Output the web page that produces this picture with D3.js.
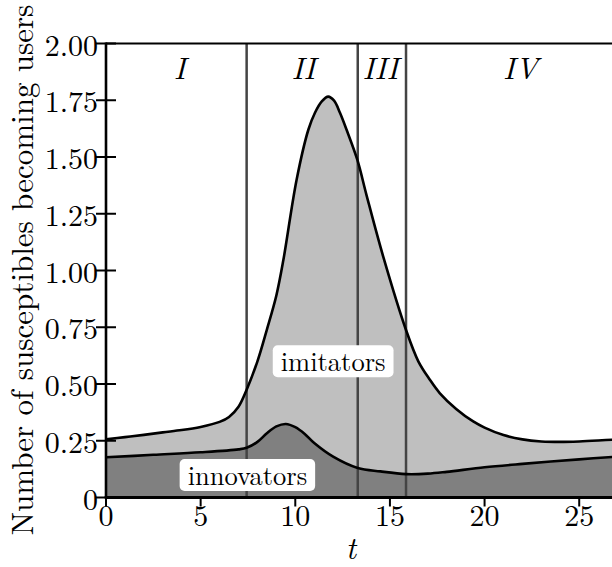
<!DOCTYPE html>
<html>
<head>
<meta charset="utf-8">
<script src="https://cdn.jsdelivr.net/npm/d3@7"></script>
<style>
    body { margin: 0; background: #fff; }
    svg { display: block; }
</style>
</head>
<body>
<script>
(function(){

    //curve of everyone becoming a user (innovators + imitators)
    var totalT = [0, 1, 2, 3, 4, 5, 6, 6.5, 7, 7.43, 8, 8.5, 9, 9.37, 10.07, 10.69, 11.04, 11.4, 11.74, 12.05, 12.36, 12.71, 13.28, 13.77, 14.65, 15.85, 16.5, 17.1, 17.64, 18.5, 19.4, 20, 21, 22, 23, 24, 25, 26, 27];
    var totalV = [0.256, 0.266, 0.276, 0.287, 0.297, 0.311, 0.333, 0.355, 0.40, 0.475, 0.60, 0.74, 0.89, 1.046, 1.40, 1.62, 1.695, 1.745, 1.766, 1.748, 1.695, 1.62, 1.487, 1.33, 1.06, 0.738, 0.60, 0.52, 0.459, 0.39, 0.335, 0.308, 0.275, 0.256, 0.247, 0.245, 0.247, 0.251, 0.256];

    //curve of innovators only
    var innovT = [0, 2.5, 5, 7, 7.43, 8, 8.5, 9, 9.5, 10, 10.5, 11, 12, 13.3, 14.5, 15.85, 17, 18, 20, 22, 25, 27];
    var innovV = [0.177, 0.188, 0.199, 0.212, 0.219, 0.245, 0.283, 0.313, 0.324, 0.31, 0.28, 0.24, 0.18, 0.13, 0.115, 0.103, 0.105, 0.113, 0.133, 0.148, 0.168, 0.18];

    //phase boundaries and phase names
    var phaseBreaks = [7.43, 13.3, 15.85];
    var phaseNames = ["I", "II", "III", "IV"];
    var phaseAt = [3.9, 10.43, 14.5, 21.9];

    //tick values and labels
    var xTicks = [0, 5, 10, 15, 20, 25];
    var yTicks = [0, 0.25, 0.5, 0.75, 1, 1.25, 1.5, 1.75, 2];
    var yTickLabels = ["0", "0.25", "0.50", "0.75", "1.00", "1.25", "1.50", "1.75", "2.00"];

    //boxed labels: text, t, value
    var boxNames = ["imitators", "innovators"];
    var boxT = [12.0, 7.47];
    var boxV = [0.60, 0.099];

    //the only font here that looks like the TeX one
    var serif = "Latin Modern Roman";

    window.onload = setChart();

    function setChart() {
        var width = 612,
            height = 567;

        var svg = d3.select("body")
            .append("svg")
            .attr("width", width)
            .attr("height", height);

        //scales, the right part of the axis is cut off by the frame
        var x = d3.scaleLinear().domain([0, 28]).range([106, 636]);
        var y = d3.scaleLinear().domain([0, 2]).range([497.5, 43.5]);

        var total = totalT.map(function(t, i) { return [t, totalV[i]]; });
        var innov = innovT.map(function(t, i) { return [t, innovV[i]]; });

        var area = d3.area()
            .curve(d3.curveCatmullRom.alpha(0.5))
            .x(function(d) { return x(d[0]); })
            .y0(y(0))
            .y1(function(d) { return y(d[1]); });

        var line = d3.line()
            .curve(d3.curveCatmullRom.alpha(0.5))
            .x(function(d) { return x(d[0]); })
            .y(function(d) { return y(d[1]); });

        //filled areas
        svg.append("path").attr("d", area(total)).attr("fill", "#bfbfbf");
        svg.append("path").attr("d", area(innov)).attr("fill", "#808080");

        //phase lines
        svg.selectAll(".phase")
            .data(phaseBreaks)
            .enter()
            .append("line")
            .attr("class", "phase")
            .attr("x1", function(d) { return x(d); })
            .attr("x2", function(d) { return x(d); })
            .attr("y1", y(0))
            .attr("y2", y(2))
            .style("stroke", "#444")
            .style("stroke-width", 2.5);

        //curves
        [total, innov].forEach(function(c) {
            svg.append("path")
                .attr("d", line(c))
                .attr("fill", "none")
                .style("stroke", "#000")
                .style("stroke-width", 2.6);
        });

        //phase names
        svg.selectAll(".phaseName")
            .data(phaseNames)
            .enter()
            .append("text")
            .attr("class", "phaseName")
            .attr("x", function(d, i) { return x(phaseAt[i]); })
            .attr("y", 79)
            .attr("text-anchor", "middle")
            .style("font-family", serif)
            .style("font-style", "italic")
            .style("font-size", "31px")
            .text(function(d) { return d; });

        //boxed labels
        boxNames.forEach(function(name, i) {
            var g = svg.append("g");
            var rect = g.append("rect")
                .attr("fill", "#fff")
                .attr("rx", 5)
                .attr("ry", 5);
            var txt = g.append("text")
                .attr("x", x(boxT[i]))
                .attr("y", y(boxV[i]) + 10)
                .attr("text-anchor", "middle")
                .style("font-family", serif)
                .style("font-size", "26.5px")
                .text(name);
            var w = txt.node().getComputedTextLength();
            rect.attr("x", x(boxT[i]) - w / 2 - 8)
                .attr("y", y(boxV[i]) - 16)
                .attr("width", w + 16)
                .attr("height", 32);
        });

        //axes
        createAxes(svg, x, y);
    };

    function createAxes(svg, x, y) {
        //top frame line
        svg.append("line")
            .attr("x1", x(0)).attr("x2", 640)
            .attr("y1", y(2)).attr("y2", y(2))
            .style("stroke", "#000").style("stroke-width", 2.2);

        //left axis
        svg.append("line")
            .attr("x1", x(0)).attr("x2", x(0))
            .attr("y1", y(0)).attr("y2", y(2) - 1)
            .style("stroke", "#000").style("stroke-width", 2.6);

        //bottom axis
        svg.append("line")
            .attr("x1", x(0) - 1.3).attr("x2", 640)
            .attr("y1", y(0)).attr("y2", y(0))
            .style("stroke", "#000").style("stroke-width", 3);

        //y ticks go both in and out
        var yt = svg.selectAll(".ytick")
            .data(yTicks)
            .enter()
            .append("g")
            .attr("class", "ytick");
        yt.append("line")
            .attr("x1", x(0) - 10).attr("x2", x(0) + 10)
            .attr("y1", function(d) { return y(d); })
            .attr("y2", function(d) { return y(d); })
            .style("stroke", "#000").style("stroke-width", 2);
        yt.append("text")
            .attr("x", 98)
            .attr("y", function(d) { return y(d) + 12; })
            .attr("text-anchor", "end")
            .style("font-family", serif)
            .style("font-size", "30px")
            .text(function(d, i) { return yTickLabels[i]; });

        //x ticks go out
        var xt = svg.selectAll(".xtick")
            .data(xTicks)
            .enter()
            .append("g")
            .attr("class", "xtick");
        xt.append("line")
            .attr("x1", function(d) { return x(d); })
            .attr("x2", function(d) { return x(d); })
            .attr("y1", y(0)).attr("y2", y(0) + 9)
            .style("stroke", "#000").style("stroke-width", 2);
        xt.append("text")
            .attr("x", function(d) { return x(d); })
            .attr("y", 526)
            .attr("text-anchor", "middle")
            .style("font-family", serif)
            .style("font-size", "30px")
            .text(function(d) { return d; });

        //axis titles
        svg.append("text")
            .attr("x", 351)
            .attr("y", 559)
            .attr("text-anchor", "middle")
            .style("font-family", serif)
            .style("font-style", "italic")
            .style("font-size", "31px")
            .text("t");

        svg.append("text")
            .attr("transform", "translate(33,270) rotate(-90)")
            .attr("text-anchor", "middle")
            .style("font-family", serif)
            .style("font-size", "31px")
            .text("Number of susceptibles becoming users");
    };
})();
</script>
</body>
</html>
